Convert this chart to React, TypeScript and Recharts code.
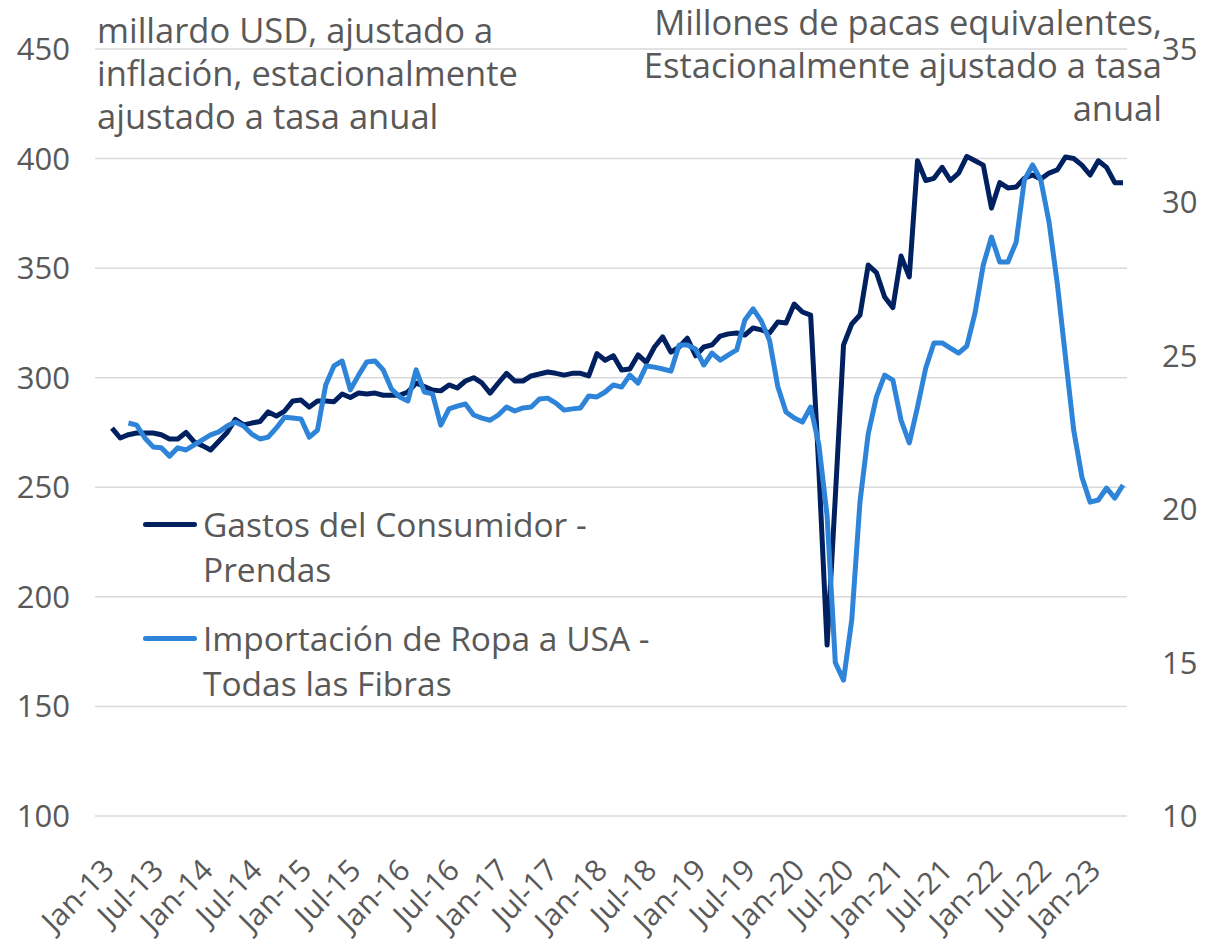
import React from "react";
import { LineChart, Line, XAxis, YAxis, CartesianGrid } from "recharts";

const MONTH_NAMES = ["Jan", "Feb", "Mar", "Apr", "May", "Jun", "Jul", "Aug", "Sep", "Oct", "Nov", "Dec"];

// Gastos del Consumidor - Prendas (mil millones USD, eje izquierdo), Jan-13 .. Apr-23
const gastos = [
  277, 272.5, 274, 274.8, 274.8, 274.8, 274, 272, 272, 275, 270.7, 269,
  267, 271, 275, 281, 278.5, 279.3, 280, 284.4, 282.5, 284.8, 289.4, 289.8,
  286.6, 289.4, 289.4, 289, 292.6, 291, 293, 292.6, 293, 292, 292, 292,
  293.5, 297.6, 296, 294.4, 294, 296.7, 295.3, 298.5, 300, 297.6, 293, 297.6,
  302, 298.5, 298.5, 300.8, 301.7, 302.6, 302, 301.2, 302, 302, 300.8, 311,
  308, 310, 303.5, 304, 310.4, 307, 314, 318.6, 311.7, 314, 318, 310,
  314, 315, 319, 320, 320.4, 319.5, 322.7, 321.8, 320.4, 325.4, 325, 333.6,
  330, 328.6, 258, 178, 245.6, 315, 324.5, 328.6, 351.4, 348, 336.8, 332,
  355.5, 346, 399, 390, 391, 396, 390, 393.4, 401, 399, 397, 377.4,
  389, 386.6, 387, 391, 392.5, 390.7, 393.4, 394.8, 400.7, 400, 397, 392.5,
  399, 396, 389, 389,
];

// Importación de Ropa a USA - Todas las Fibras (millones de pacas, eje derecho)
const importaciones = [
  null, null, 22.81, 22.74, 22.32, 22.03, 22.0, 21.73, 22.0, 21.93, 22.1, 22.26,
  22.42, 22.52, 22.71, 22.84, 22.71, 22.45, 22.29, 22.35, 22.65, 23.0, 22.97, 22.94,
  22.35, 22.58, 24.05, 24.67, 24.83, 23.89, 24.37, 24.8, 24.83, 24.54, 23.92, 23.66,
  23.53, 24.54, 23.82, 23.76, 22.74, 23.27, 23.36, 23.43, 23.07, 22.97, 22.9, 23.07,
  23.33, 23.2, 23.3, 23.33, 23.59, 23.62, 23.46, 23.23, 23.27, 23.3, 23.69, 23.66,
  23.82, 24.05, 23.98, 24.37, 24.11, 24.67, 24.63, 24.57, 24.5, 25.35, 25.35, 25.22,
  24.7, 25.09, 24.86, 25.03, 25.19, 26.17, 26.53, 26.13, 25.5, 24.0, 23.17, 22.97,
  22.84, 23.33, 22.1, 19.78, 15.0, 14.43, 16.39, 20.24, 22.45, 23.66, 24.37, 24.21,
  22.9, 22.16, 23.33, 24.6, 25.42, 25.42, 25.25, 25.09, 25.32, 26.4, 27.96, 28.87,
  28.06, 28.06, 28.7, 30.73, 31.22, 30.73, 29.36, 27.37, 24.96, 22.58, 21.05, 20.23,
  20.3, 20.69, 20.36, 20.79,
];

const leftTicks = [100, 150, 200, 250, 300, 350, 400, 450];
const rightTicks = [10, 15, 20, 25, 30, 35];

const leftTitle = ["millardo USD, ajustado a", "inflación, estacionalmente", "ajustado a tasa anual"];
const rightTitle = ["Millones de pacas equivalentes,", "Estacionalmente ajustado a tasa", "anual"];

const series = [
  { key: "gastos", color: "#002060", lines: ["Gastos del Consumidor -", "Prendas"] },
  { key: "importaciones", color: "#2E84D8", lines: ["Importación de Ropa a USA -", "Todas las Fibras"] },
];

const months = gastos.map((_, i) => `${MONTH_NAMES[i % 12]}-${13 + Math.floor(i / 12)}`);
const data = months.map((m, i) => ({ month: m, gastos: gastos[i], importaciones: importaciones[i] }));

const FONT = "'Open Sans', sans-serif";
const GREY = "#595959";

const XTick = (props: any) => {
  const { x, y, payload } = props;
  return (
    <g transform={`translate(${x + 4},${y + 48}) rotate(-45)`}>
      <text textAnchor="end" fontSize={30} fill={GREY} fontFamily={FONT}>
        {payload.value}
      </text>
    </g>
  );
};

export default function App() {
  return (
    <div style={{ position: "absolute", left: 0, top: 0, width: 1208, height: 945, fontFamily: FONT, color: GREY }}>
      <LineChart width={1208} height={945} data={data} margin={{ top: 49, right: 0, bottom: 0, left: 0 }}>
        <CartesianGrid vertical={false} stroke="#d9d9d9" strokeWidth={1.5} />
        <XAxis
          dataKey="month"
          scale="point"
          interval={5}
          padding={{ left: 17, right: 4 }}
          axisLine={false}
          tickLine={false}
          height={129}
          tick={<XTick />}
        />
        <YAxis
          yAxisId={0}
          width={95}
          domain={[100, 450]}
          ticks={leftTicks}
          axisLine={false}
          tickLine={false}
          tickSize={0}
          tickMargin={25}
          tick={{ fontSize: 31, fill: GREY, fontFamily: FONT }}
        />
        <YAxis
          yAxisId="right"
          orientation="right"
          width={81}
          domain={[10, 35]}
          ticks={rightTicks}
          axisLine={false}
          tickLine={false}
          tickSize={0}
          tickMargin={35}
          tick={{ fontSize: 31, fill: GREY, fontFamily: FONT, textAnchor: "start" }}
        />
        <Line
          yAxisId={0}
          dataKey="gastos"
          stroke={series[0].color}
          strokeWidth={5}
          dot={false}
          strokeLinejoin="round"
          isAnimationActive={false}
        />
        <Line
          yAxisId="right"
          dataKey="importaciones"
          stroke={series[1].color}
          strokeWidth={5}
          dot={false}
          strokeLinejoin="round"
          isAnimationActive={false}
        />
      </LineChart>

      <div style={{ position: "absolute", left: 97, top: 8, fontSize: 34.5, lineHeight: "43px", whiteSpace: "nowrap" }}>
        {leftTitle.map((t) => (
          <div key={t}>{t}</div>
        ))}
      </div>
      <div
        style={{
          position: "absolute",
          right: 46,
          top: 0,
          fontSize: 34.5,
          lineHeight: "43px",
          textAlign: "right",
          whiteSpace: "nowrap",
        }}
      >
        {rightTitle.map((t) => (
          <div key={t}>{t}</div>
        ))}
      </div>

      <div style={{ position: "absolute", left: 143, top: 502, fontSize: 33.5, lineHeight: "45px" }}>
        {series.map((s, idx) => (
          <div key={s.key} style={{ position: "relative", paddingLeft: 60, marginBottom: idx === 0 ? 24 : 0 }}>
            <div
              style={{
                position: "absolute",
                left: 0,
                top: 20,
                width: 54,
                height: 5,
                borderRadius: 3,
                background: s.color,
              }}
            />
            {s.lines.map((l) => (
              <div key={l} style={{ whiteSpace: "nowrap" }}>
                {l}
              </div>
            ))}
          </div>
        ))}
      </div>
    </div>
  );
}
